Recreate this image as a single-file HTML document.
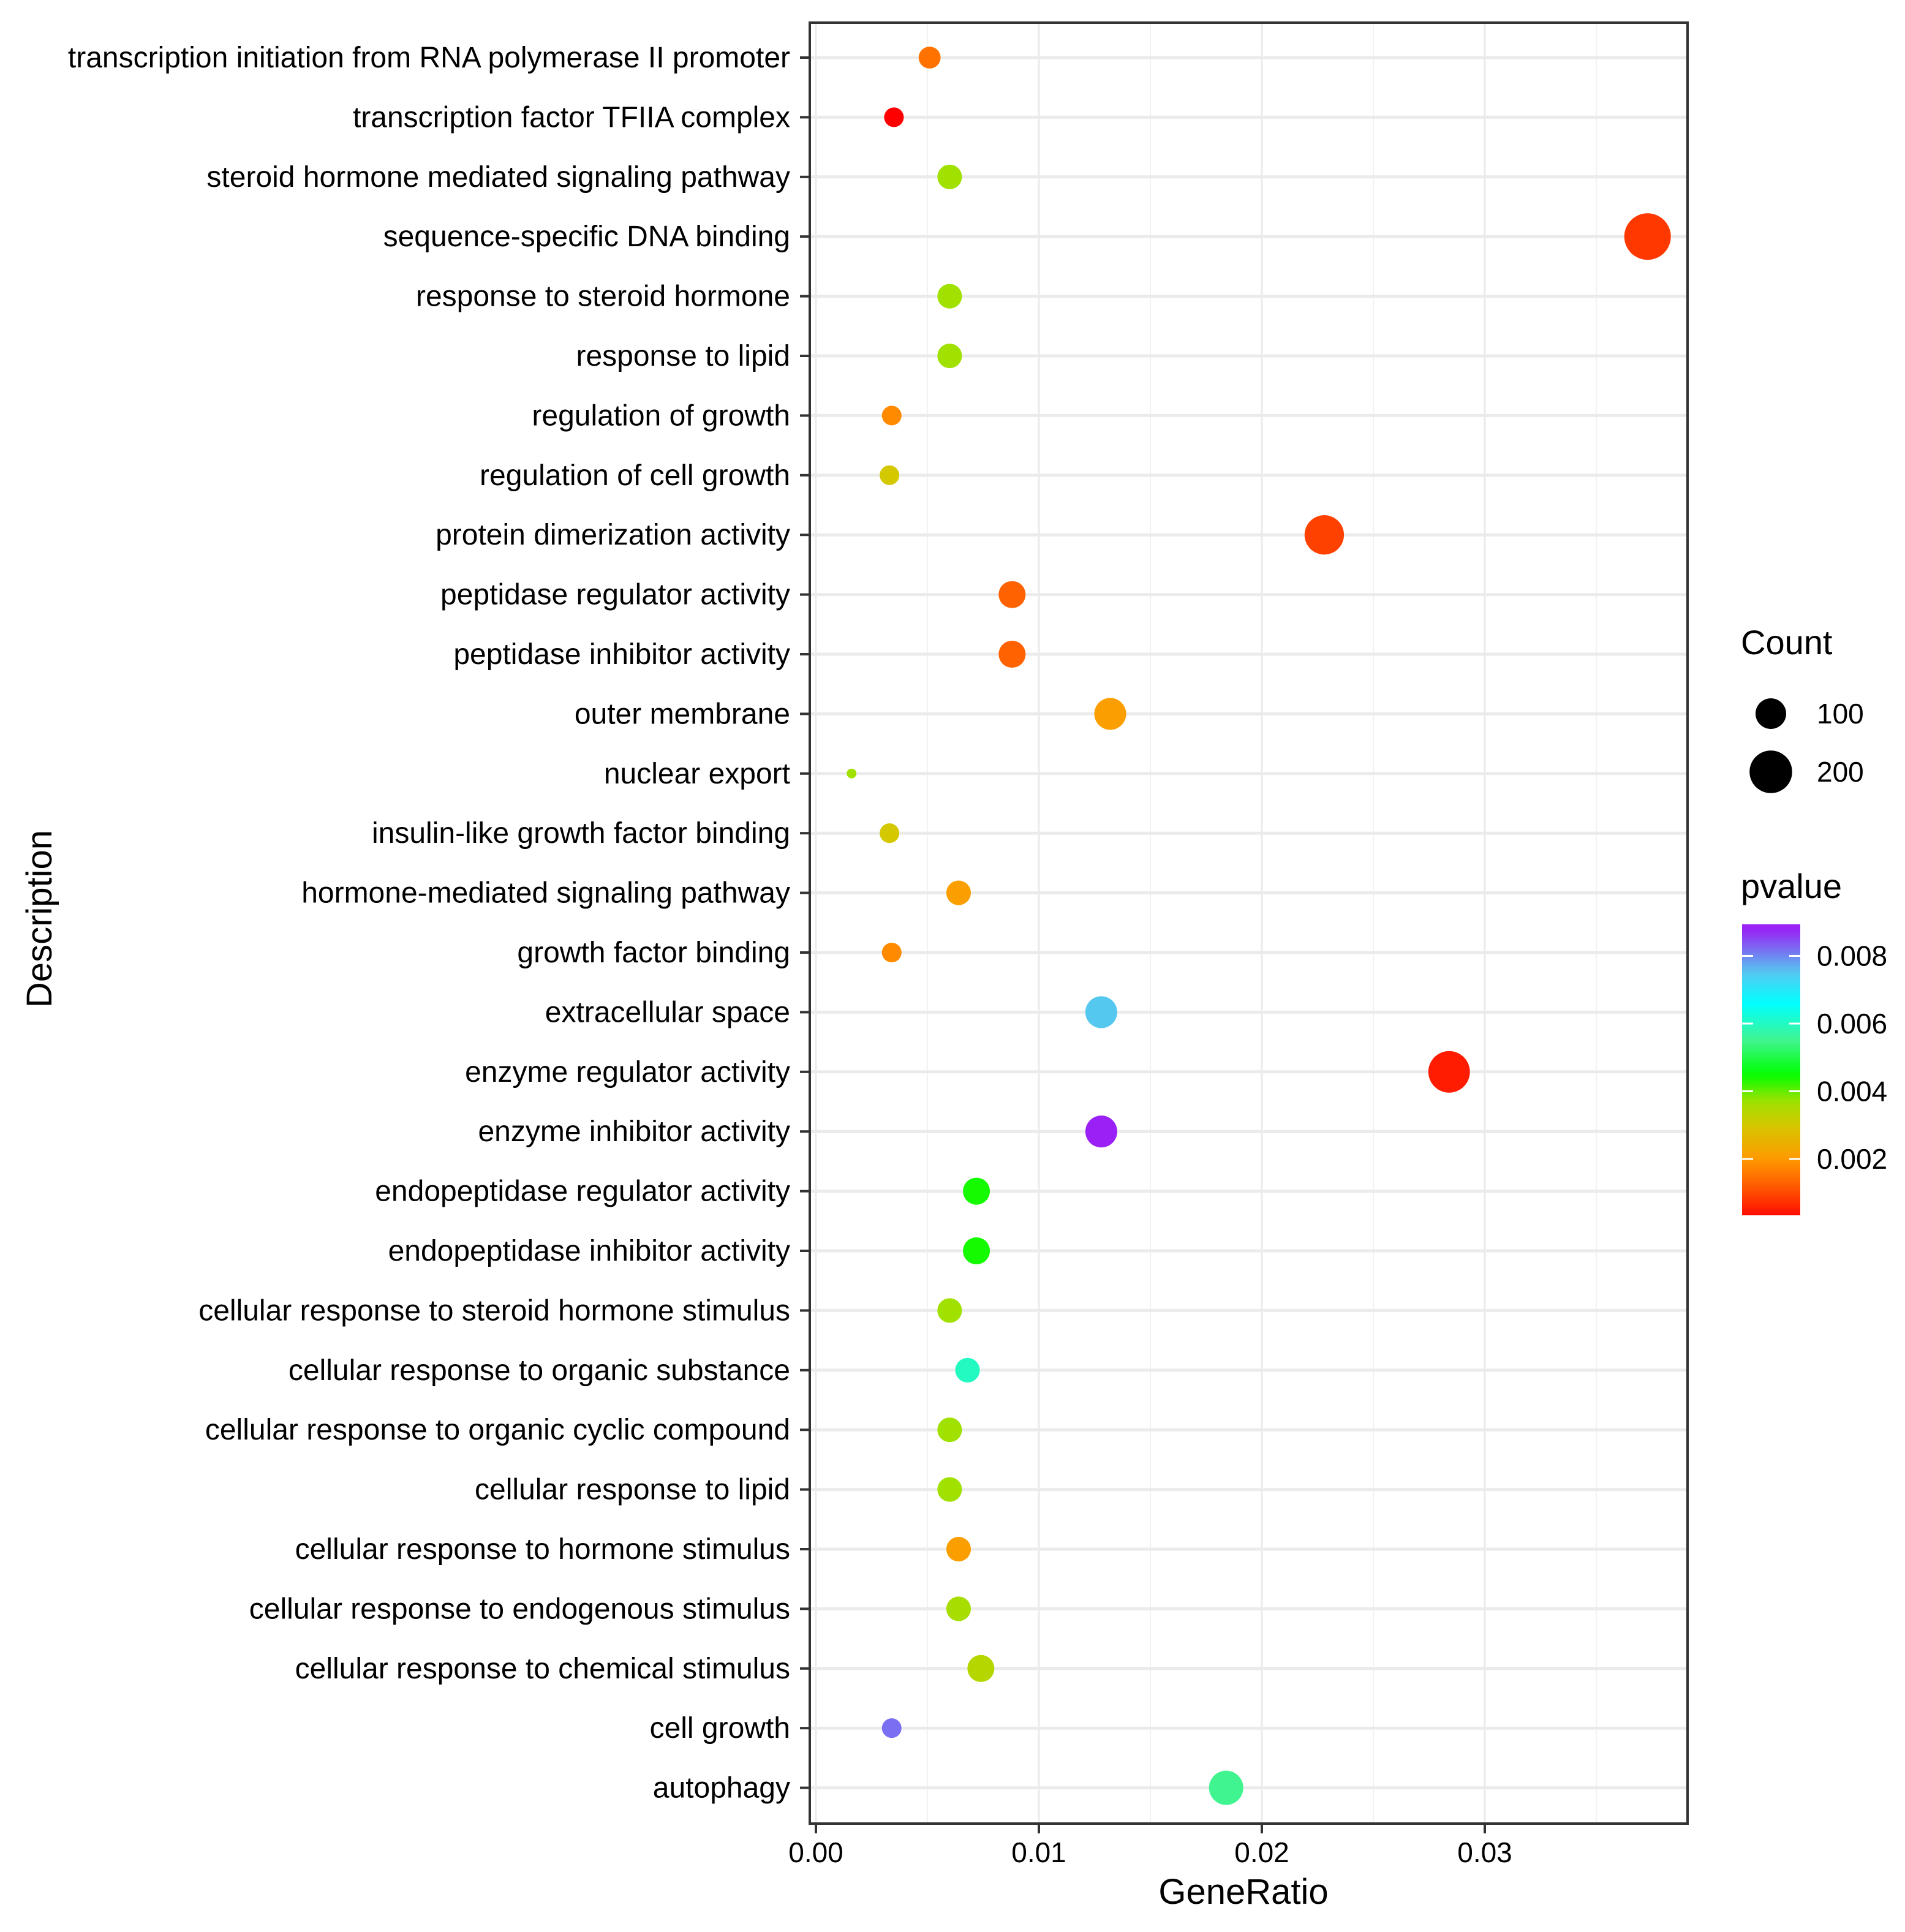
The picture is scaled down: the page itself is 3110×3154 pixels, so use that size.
<!DOCTYPE html>
<html><head><meta charset="utf-8"><style>
html,body{margin:0;padding:0;background:#fff;}
svg{display:block;font-family:"Liberation Sans",Arial,sans-serif;}
</style></head><body>
<svg id="chart" width="3110" height="3154" viewBox="0 0 3110 3154" xmlns="http://www.w3.org/2000/svg">
<defs>
<linearGradient id="pgrad" x1="0" y1="1" x2="0" y2="0"></linearGradient>
</defs>
<g id="grid"></g>
<g id="dots"></g>
<rect x="1322" y="37" width="1433" height="2940" fill="none" stroke="#333" stroke-width="4"/>
<g id="yaxis"></g>
<g id="xaxis"></g>
<text x="2030" y="3108" font-size="58" text-anchor="middle">GeneRatio</text>
<text transform="translate(84,1500) rotate(-90)" font-size="58" text-anchor="middle">Description</text>
<g transform="translate(16,0)">
<g>
<text x="2826" y="1068" font-size="56">Count</text>
<g id="sizeleg"></g>
</g>
<g>
<text x="2826" y="1466" font-size="56">pvalue</text>
<rect x="2828" y="1509" width="95" height="475" fill="url(#pgrad)"/>
<g id="colleg"></g>
</g>
</g>
</svg>
<script>
const categories = ["transcription initiation from RNA polymerase II promoter","transcription factor TFIIA complex","steroid hormone mediated signaling pathway","sequence-specific DNA binding","response to steroid hormone","response to lipid","regulation of growth","regulation of cell growth","protein dimerization activity","peptidase regulator activity","peptidase inhibitor activity","outer membrane","nuclear export","insulin-like growth factor binding","hormone-mediated signaling pathway","growth factor binding","extracellular space","enzyme regulator activity","enzyme inhibitor activity","endopeptidase regulator activity","endopeptidase inhibitor activity","cellular response to steroid hormone stimulus","cellular response to organic substance","cellular response to organic cyclic compound","cellular response to lipid","cellular response to hormone stimulus","cellular response to endogenous stimulus","cellular response to chemical stimulus","cell growth","autophagy"];
const geneRatio = [0.0051,0.0035,0.0060,0.0373,0.0060,0.0060,0.0034,0.0033,0.0228,0.0088,0.0088,0.0132,0.0016,0.0033,0.0064,0.0034,0.0128,0.0284,0.0128,0.0072,0.0072,0.0060,0.0068,0.0060,0.0060,0.0064,0.0064,0.0074,0.0034,0.0184];
const counts = [48,37,62,240,62,62,37,37,170,76,76,109,4,37,62,37,109,190,109,76,76,62,62,62,62,62,62,76,37,127];
const pvalues = [0.0015,0.0002,0.0037,0.0008,0.0037,0.0037,0.0018,0.0030,0.0009,0.0013,0.0013,0.0021,0.0037,0.0030,0.0021,0.0018,0.0075,0.0005,0.0088,0.0044,0.0044,0.0037,0.0060,0.0037,0.0037,0.0021,0.0036,0.0034,0.0082,0.0055];
const xTicks = [0,0.01,0.02,0.03];
const xTickLabels = ["0.00","0.01","0.02","0.03"];
const sizeBreaks = [100,200];
const pTicks = [0.002,0.004,0.006,0.008];
const pTickLabels = ["0.002","0.004","0.006","0.008"];

const NS="http://www.w3.org/2000/svg";
const X0=1332, XS=36400, Y0=94, YS=97.4;
function xScale(v){return X0+v*XS;}
function yScale(i){return Y0+i*YS;}
function rScale(c){return Math.sqrt(40+5.85*c);}
function pY(p){return 2002.5-p*55250;}
const cStops=[[0.0002,[255,0,0]],[0.001,[255,74,0]],[0.002,[255,154,0]],[0.003,[212,200,0]],[0.0037,[160,225,0]],[0.0045,[0,255,0]],[0.0055,[64,245,144]],[0.0066,[0,255,255]],[0.0075,[85,200,240]],[0.0088,[154,32,245]]];
function pColor(p){
  if(p<=cStops[0][0])return "rgb("+cStops[0][1]+")";
  for(let i=1;i<cStops.length;i++){if(p<=cStops[i][0]){const a=cStops[i-1],b=cStops[i];const t=(p-a[0])/(b[0]-a[0]);return "rgb("+a[1].map((v,k)=>Math.round(v+(b[1][k]-v)*t)).join(",")+")";}}
  return "rgb("+cStops[cStops.length-1][1]+")";
}
function mk(tag,attrs,parent){const e=document.createElementNS(NS,tag);for(const k in attrs)e.setAttribute(k,attrs[k]);parent.appendChild(e);return e;}
const grad=document.getElementById('pgrad');
const pBot=(2002.5-1984)/55250, pTop=(2002.5-1509)/55250;
for(let k=0;k<=40;k++){const p=pBot+(pTop-pBot)*k/40;mk('stop',{offset:k/40,'stop-color':pColor(p)},grad);}
const grid=document.getElementById('grid'),dots=document.getElementById('dots'),yax=document.getElementById('yaxis'),xax=document.getElementById('xaxis');
for(let v=0.005;v<0.039;v+=0.01){const l=mk('line',{x1:xScale(v),x2:xScale(v),y1:37,y2:2977,stroke:'#f2f2f2','stroke-width':2},grid);

}
xTicks.forEach((v,i)=>{
  const g=mk('line',{x1:xScale(v),x2:xScale(v),y1:37,y2:2977,stroke:'#ebebeb','stroke-width':3},grid);
  
  
  const t=mk('line',{x1:xScale(v),x2:xScale(v),y1:2977,y2:2993,stroke:'#333','stroke-width':4},xax);
  
  
  const tx=mk('text',{x:xScale(v),y:3040,'font-size':46,'text-anchor':'middle',fill:'#000'},xax);
  tx.textContent=xTickLabels[i];
  
  
});
categories.forEach((c,i)=>{
  const y=yScale(i);
  const g=mk('line',{x1:1322,x2:2755,y1:y,y2:y,stroke:'#ebebeb','stroke-width':5},grid);
  
  
  const t=mk('line',{x1:1306,x2:1322,y1:y,y2:y,stroke:'#333','stroke-width':4},yax);
  
  
  const tx=mk('text',{x:1290,y:y+16,'font-size':48,'text-anchor':'end',fill:'#000'},yax);
  tx.textContent=c;
  
  
  const d=mk('circle',{cx:xScale(geneRatio[i]),cy:y,r:rScale(counts[i]),fill:pColor(pvalues[i])},dots);
  
  
});
const sl=document.getElementById('sizeleg');
sizeBreaks.forEach((s,i)=>{
  const y=1165+i*95;
  const c=mk('circle',{cx:2875,cy:y,r:rScale(s),fill:'#000'},sl);
  
  
  const t=mk('text',{x:2950,y:y+16,'font-size':46},sl);
  t.textContent=String(s);
  
  
});
const cl=document.getElementById('colleg');
pTicks.forEach((p,i)=>{
  const y=pY(p);
  [[2828,2846],[2905,2923]].forEach(a=>{const l=mk('line',{x1:a[0],x2:a[1],y1:y,y2:y,stroke:'#fff','stroke-width':3},cl);
  
  });
  const t=mk('text',{x:2950,y:y+16,'font-size':46},cl);
  t.textContent=pTickLabels[i];
  
  
});
</script>
</body></html>
